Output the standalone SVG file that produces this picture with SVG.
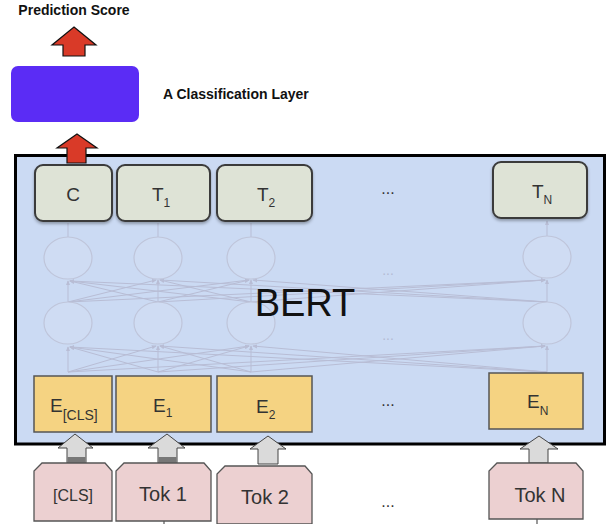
<svg xmlns="http://www.w3.org/2000/svg" width="608" height="524" viewBox="0 0 608 524">
<style>
  .lbl{font-family:"Liberation Sans",Arial,sans-serif;fill:#333}
  .head{font-family:"Liberation Sans",Arial,sans-serif;font-weight:bold;fill:#111;font-size:14px}
  .tbox{fill:#dee3d6;stroke:#3a3a3a;stroke-width:2}
  .ebox{fill:#f5d382;stroke:#555;stroke-width:1.5}
  .tok{fill:#ecd0d1;stroke:#555;stroke-width:1.3}
  .garrow{fill:#dadada;stroke:#444;stroke-width:1}
  .rarrow{fill:#d93a28;stroke:#111;stroke-width:1.2}
  .net{stroke:#b8bdd5;stroke-width:1;fill:none}
  .cir{fill:#cfdcf3;stroke:#bfc5da;stroke-width:1.2}
  .dots{font-family:"Liberation Sans",Arial,sans-serif;fill:#333;font-size:16px}
  .fdots{font-family:"Liberation Sans",Arial,sans-serif;fill:#b4bbd3;font-size:14px}
</style>
<defs>
  <marker id="ah" viewBox="0 0 6 6" refX="5" refY="3" markerWidth="5" markerHeight="5" orient="auto">
    <path d="M0,0.5 L6,3 L0,5.5 Z" fill="#b8bdd5"/>
  </marker>
  <filter id="sh" x="-10%" y="-10%" width="120%" height="130%">
    <feDropShadow dx="0" dy="2" stdDeviation="1.5" flood-color="#000" flood-opacity="0.3"/>
  </filter>
</defs>

<rect width="608" height="524" fill="#fff"/>

<text class="head" x="74" y="15" text-anchor="middle">Prediction Score</text>
<g id="arrow-score">
  <polygon class="rarrow" points="74,27 96,45 85,45 85,56 63,56 63,45 52,45"/>
</g>

<g id="classifier">
  <rect x="11" y="66" width="128" height="56" rx="7" fill="#5b2cf5"/>
  <text class="head" x="163" y="99">A Classification Layer</text>
</g>

<g id="bert">
  <rect x="15.5" y="155.5" width="589" height="288.5" fill="#cbdaf3" stroke="#000" stroke-width="3"/>
</g>

<g id="connectors">
  <!-- top verticals -->
  <path class="net" marker-end="url(#ah)" d="M68,237 V223 M158,237 V223 M251,237 V223 M547,236 V221"/>
  <!-- middle layer -->
  <path class="net" marker-end="url(#ah)" d="M68,302 L68,281"/>
  <path class="net" marker-end="url(#ah)" d="M158,302 L158,280"/>
  <path class="net" marker-end="url(#ah)" d="M251,302 L251,280"/>
  <path class="net" marker-end="url(#ah)" d="M547,302 L547,280"/>
  <path class="net" marker-end="url(#ah)" d="M158,302 L70,281"/>
  <path class="net" marker-end="url(#ah)" d="M251,302 L70,281"/>
  <path class="net" marker-end="url(#ah)" d="M547,302 L70,281"/>
  <path class="net" marker-end="url(#ah)" d="M68,302 L156,280"/>
  <path class="net" marker-end="url(#ah)" d="M251,302 L160,280"/>
  <path class="net" marker-end="url(#ah)" d="M547,302 L160,280"/>
  <path class="net" marker-end="url(#ah)" d="M68,302 L249,280"/>
  <path class="net" marker-end="url(#ah)" d="M158,302 L249,280"/>
  <path class="net" marker-end="url(#ah)" d="M547,302 L253,280"/>
  <path class="net" marker-end="url(#ah)" d="M68,302 L545,280"/>
  <path class="net" marker-end="url(#ah)" d="M158,302 L545,280"/>
  <path class="net" marker-end="url(#ah)" d="M251,302 L545,280"/>
  <!-- bottom layer -->
  <path class="net" marker-end="url(#ah)" d="M68,372 L68,347"/>
  <path class="net" marker-end="url(#ah)" d="M158,372 L158,346"/>
  <path class="net" marker-end="url(#ah)" d="M251,372 L251,346"/>
  <path class="net" marker-end="url(#ah)" d="M547,372 L547,346"/>
  <path class="net" marker-end="url(#ah)" d="M158,372 L70,347"/>
  <path class="net" marker-end="url(#ah)" d="M251,372 L70,347"/>
  <path class="net" marker-end="url(#ah)" d="M547,372 L70,347"/>
  <path class="net" marker-end="url(#ah)" d="M68,372 L156,346"/>
  <path class="net" marker-end="url(#ah)" d="M251,372 L160,346"/>
  <path class="net" marker-end="url(#ah)" d="M547,372 L160,346"/>
  <path class="net" marker-end="url(#ah)" d="M68,372 L249,346"/>
  <path class="net" marker-end="url(#ah)" d="M158,372 L249,346"/>
  <path class="net" marker-end="url(#ah)" d="M547,372 L253,346"/>
  <path class="net" marker-end="url(#ah)" d="M68,372 L545,346"/>
  <path class="net" marker-end="url(#ah)" d="M158,372 L545,346"/>
  <path class="net" marker-end="url(#ah)" d="M251,372 L545,346"/>
  <!-- stubs below tokens -->
  <path d="M164,521 V524 M537,519 V524" stroke="#555" stroke-width="1.2"/>
</g>

<g id="hidden-units">
  <ellipse class="cir" cx="68" cy="258" rx="24" ry="21"/>
  <ellipse class="cir" cx="158" cy="258" rx="24" ry="21"/>
  <ellipse class="cir" cx="251" cy="258" rx="24" ry="21"/>
  <ellipse class="cir" cx="547" cy="257" rx="24" ry="21"/>
  <ellipse class="cir" cx="68" cy="323" rx="24" ry="21"/>
  <ellipse class="cir" cx="158" cy="323" rx="24" ry="21"/>
  <ellipse class="cir" cx="251" cy="323" rx="24" ry="21"/>
  <ellipse class="cir" cx="547" cy="323" rx="24" ry="21"/>
  <text class="fdots" x="388" y="275" text-anchor="middle">...</text>
  <text class="fdots" x="388" y="340" text-anchor="middle">...</text>
</g>

<text x="305" y="316" text-anchor="middle" font-family="Liberation Sans, Arial, sans-serif" font-size="38" fill="#111">BERT</text>

<g id="out-C">
  <rect class="tbox" x="35" y="165" width="77" height="56" rx="8" filter="url(#sh)"/>
  <text class="lbl" x="73" y="201" font-size="19" text-anchor="middle">C</text>
</g>
<g id="out-T1">
  <rect class="tbox" x="117" y="165" width="93" height="56" rx="8" filter="url(#sh)"/>
  <text class="lbl" x="152" y="201" font-size="19">T<tspan font-size="12" dy="6">1</tspan></text>
</g>
<g id="out-T2">
  <rect class="tbox" x="217" y="165" width="95" height="56" rx="8" filter="url(#sh)"/>
  <text class="lbl" x="257" y="201" font-size="19">T<tspan font-size="12" dy="6">2</tspan></text>
</g>
<text class="dots" x="388" y="194" text-anchor="middle">...</text>
<g id="out-TN">
  <rect class="tbox" x="493" y="162" width="94" height="56" rx="8" filter="url(#sh)"/>
  <text class="lbl" x="532" y="198" font-size="19">T<tspan font-size="12" dy="6">N</tspan></text>
</g>

<g id="arrow-cls-out">
  <polygon class="rarrow" points="77,134 97,148 86,148 86,163 67,163 67,148 57,148"/>
</g>

<g id="emb-CLS">
  <rect class="ebox" x="34" y="376" width="78" height="56"/>
  <text class="lbl" x="50" y="412" font-size="19">E<tspan font-size="14" dy="8">[CLS]</tspan></text>
</g>
<g id="emb-1">
  <rect class="ebox" x="116" y="376" width="95" height="56"/>
  <text class="lbl" x="153" y="412" font-size="19">E<tspan font-size="12" dy="5">1</tspan></text>
</g>
<g id="emb-2">
  <rect class="ebox" x="217" y="376" width="95" height="56"/>
  <text class="lbl" x="256" y="413" font-size="19">E<tspan font-size="12" dy="6">2</tspan></text>
</g>
<text class="dots" x="388" y="406" text-anchor="middle">...</text>
<g id="emb-N">
  <rect class="ebox" x="489" y="373" width="94" height="56"/>
  <text class="lbl" x="527" y="408" font-size="19">E<tspan font-size="12" dy="7">N</tspan></text>
</g>

<g id="in-arrows">
  <polygon class="garrow" points="75,434 93,448 86,448 86,463 67,463 67,448 58,448"/>
  <rect x="67.5" y="457" width="18" height="6" fill="#777"/>
  <polygon class="garrow" points="167,434 185,448 177,448 177,463 158,463 158,448 148,448"/>
  <rect x="158.5" y="457" width="18" height="6" fill="#777"/>
  <polygon class="garrow" points="268,436 286,449 278,449 278,464 258,464 258,449 250,449"/>
  <polygon class="garrow" points="539,436 558,449 548,449 548,463 529,463 529,449 520,449"/>
</g>

<g id="tok-CLS">
  <polygon class="tok" points="42,463 105,463 112,471 112,521 34,521 34,471"/>
  <text class="lbl" x="73" y="501" font-size="16" text-anchor="middle">[CLS]</text>
</g>
<g id="tok-1">
  <polygon class="tok" points="124,463 204,463 211,471 211,521 116,521 116,471"/>
  <text class="lbl" x="163" y="501" font-size="20" text-anchor="middle">Tok 1</text>
</g>
<g id="tok-2">
  <polygon class="tok" points="225,466 305,466 312,474 312,524 217,524 217,474"/>
  <text class="lbl" x="265" y="504" font-size="20" text-anchor="middle">Tok 2</text>
</g>
<text class="dots" x="388" y="507" text-anchor="middle">...</text>
<g id="tok-N">
  <polygon class="tok" points="497,463 576,463 583,471 583,519 489,519 489,471"/>
  <text class="lbl" x="540" y="502" font-size="20" text-anchor="middle">Tok N</text>
</g>
</svg>
